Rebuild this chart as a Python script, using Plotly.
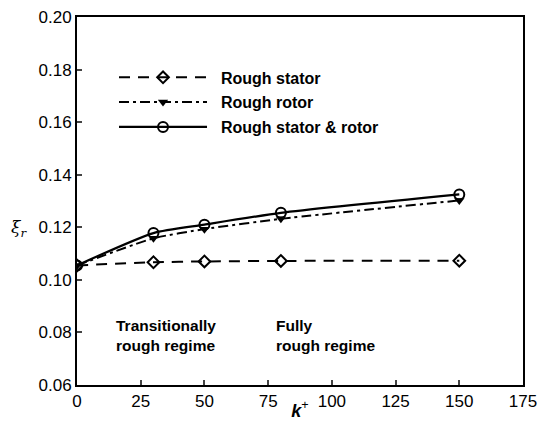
import plotly.graph_objects as go

k_plus = [0, 30, 50, 80, 150]
rough_stator = [0.1055, 0.1067, 0.1070, 0.1072, 0.1073]
rough_rotor = [0.1055, 0.1158, 0.1193, 0.1232, 0.1302]
rough_both = [0.1055, 0.1178, 0.1210, 0.1255, 0.1325]

x_ticks = [0, 25, 50, 75, 100, 125, 150, 175]
y_ticks = [0.06, 0.08, 0.10, 0.12, 0.14, 0.16, 0.18, 0.20]

FONT = "Liberation Sans, Arial, sans-serif"
SP = "&nbsp;&nbsp;"

fig = go.Figure()
fig.add_trace(go.Scatter(
    x=k_plus, y=rough_stator, name=SP + "<b>Rough stator</b>", mode="lines+markers",
    legendgroup="a",
    line=dict(color="black", width=2, dash="11px,8px", shape="spline", smoothing=0.6),
    marker=dict(symbol="diamond-open", size=9, color="black", line=dict(width=2))))
fig.add_trace(go.Scatter(
    x=k_plus, y=rough_rotor, name=SP + "<b>Rough rotor</b>", mode="lines+markers",
    legendgroup="b",
    line=dict(color="black", width=2, dash="10px,4px,3px,4px", shape="spline", smoothing=0.6),
    marker=dict(symbol="triangle-down", size=9, color="black")))
fig.add_trace(go.Scatter(
    x=k_plus, y=rough_both, name=SP + "<b>Rough stator &amp; rotor</b>", mode="lines+markers",
    legendgroup="c",
    line=dict(color="black", width=2.2, shape="spline", smoothing=0.6),
    marker=dict(symbol="circle-open", size=10, color="black", line=dict(width=2))))

fig.add_annotation(x=14.5, y=0.0787, xref="x", yref="y", xanchor="left", yanchor="middle",
                   text="<b>Transitionally<br>rough regime</b>", showarrow=False, align="left",
                   font=dict(family=FONT, size=15.5, color="black"))
fig.add_annotation(x=77.2, y=0.0787, xref="x", yref="y", xanchor="left", yanchor="middle",
                   text="<b>Fully<br>rough regime</b>", showarrow=False, align="left",
                   font=dict(family=FONT, size=15.5, color="black"))
fig.add_annotation(x=-0.13, y=0.426, xref="paper", yref="paper", xanchor="center", yanchor="middle",
                   text="<i>ξ<sub>r</sub></i>", showarrow=False,
                   font=dict(family="DejaVu Serif, serif", size=17, color="black"))

fig.update_layout(
    width=549, height=421,
    margin=dict(l=77, r=26, t=17, b=36),
    paper_bgcolor="white", plot_bgcolor="white",
    font=dict(family=FONT, size=17, color="black"),
    showlegend=True,
    legend=dict(x=0.083, y=0.882, xanchor="left", yanchor="top",
                bgcolor="rgba(0,0,0,0)", font=dict(family=FONT, size=16, color="black"),
                itemwidth=88, tracegroupgap=1),
    xaxis=dict(range=[0, 175], tickvals=x_ticks, ticks="inside", ticklen=5, tickwidth=1.5,
               showgrid=False, zeroline=False, showline=True, linewidth=2, linecolor="black",
               mirror=True, tickfont=dict(size=17), automargin=False,
               title=dict(text="<b><i>k</i></b><sup>+</sup>", standoff=2, font=dict(size=18))),
    yaxis=dict(range=[0.06, 0.20], tickvals=y_ticks, tickformat=".2f", ticks="inside", ticklen=5,
               tickwidth=1.5, showgrid=False, zeroline=False, showline=True, linewidth=2,
               linecolor="black", mirror=True, tickfont=dict(size=17), automargin=False),
)

fig.write_html("out.html")
